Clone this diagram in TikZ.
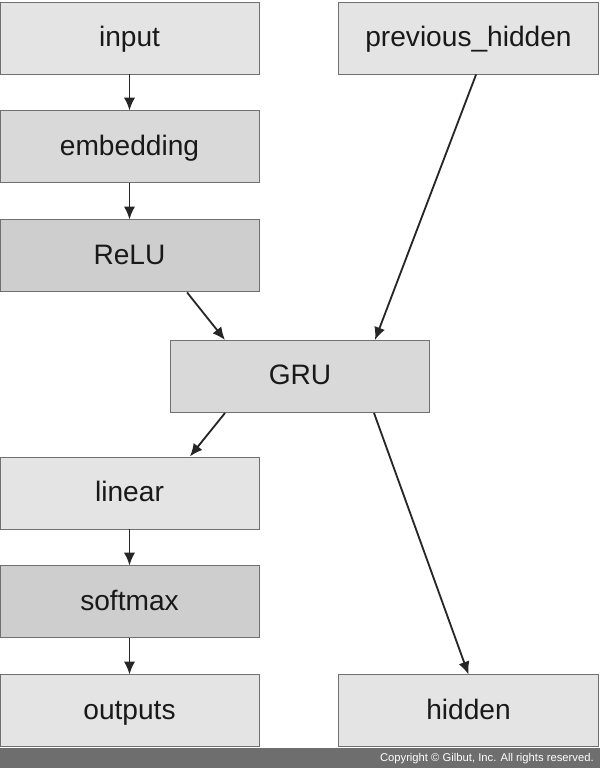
\documentclass[tikz,border=0pt]{standalone}
\usepackage{fontspec}
\setmainfont{Liberation Sans}
\usepackage{xcolor}
\usepackage{tikz}
\usetikzlibrary{arrows.meta,positioning}
\definecolor{gbline}{HTML}{707070}
\definecolor{gblight}{HTML}{E4E4E4}
\definecolor{gbmid}{HTML}{D9D9D9}
\definecolor{gbdark}{HTML}{CECECE}
\definecolor{gbbar}{HTML}{6E6E6E}
\tikzset{
  layer/.style={draw=gbline,line width=.7pt,fill=gblight,minimum width=6.475cm,
    minimum height=1.8cm,inner sep=0pt,text height=12pt,text depth=0pt,
    font=\fontsize{20}{23}\selectfont,text=black!90},
  layermid/.style={layer,fill=gbmid},
  layerdark/.style={layer,fill=gbdark},
  flow/.style={-{Latex[length=3.2mm,width=2.8mm]},line width=1.3pt,draw=black!85}
}
\begin{document}
\begin{tikzpicture}[node distance=0.9cm]
    \useasboundingbox (0,0) rectangle (15,-19.2);
    \node[layer] (input) at (3.2375,-0.95) {input};
    \node[layermid,below=of input] (emb) {embedding};
    \node[layerdark,below=of emb] (relu) {ReLU};
    \node[layer,right=1.975cm of input] (prev) {previous\_hidden};
    \node[layermid] (gru) at (7.5,-9.4125) {GRU};
    \node[layer] (linear) at (3.2375,-12.325) {linear};
    \node[layerdark,below=of linear] (softmax) {softmax};
    \node[layer,below=of softmax] (outputs) {outputs};
    \node[layer,right=1.975cm of outputs] (hidden) {hidden};
    \draw[flow] (input)--(emb);
    \draw[flow] (emb)--(relu);
    \draw[flow] ([xshift=1.44cm]relu.south)--([xshift=-1.875cm]gru.north);
    \draw[flow] ([xshift=0.19cm]prev.south)--([xshift=1.875cm]gru.north);
    \draw[flow] ([xshift=-1.875cm]gru.south)--([xshift=1.51cm]linear.north);
    \draw[flow] ([xshift=1.85cm]gru.south)--(hidden.north);
    \draw[flow] (linear)--(softmax);
    \draw[flow] (softmax)--(outputs);
    \draw[draw=none,fill=gbbar] (0,-18.7) rectangle (15,-19.2);
    \node[anchor=east,inner sep=0pt,text=white,font=\fontsize{8}{9}\selectfont] (copy) at (14.85,-18.975) {Copyright © Gilbut, Inc. All rights reserved.};
  \end{tikzpicture}
\end{document}
